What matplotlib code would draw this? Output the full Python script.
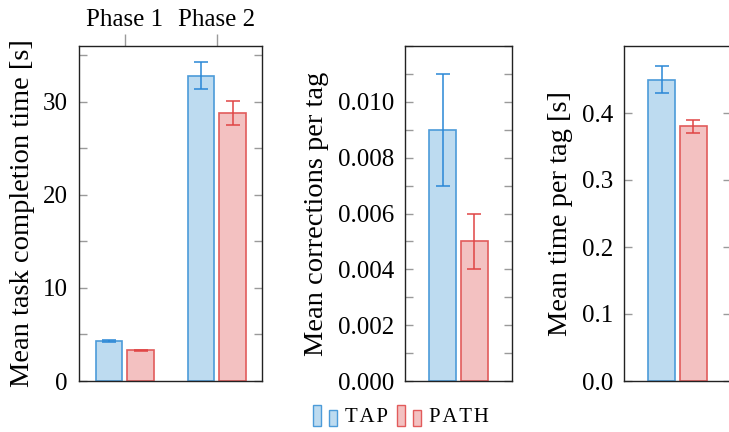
import numpy as np
import matplotlib
matplotlib.use('Agg')
import matplotlib.pyplot as plt
from matplotlib.patches import Rectangle
from matplotlib.legend_handler import HandlerBase
from matplotlib.ticker import MultipleLocator

plt.rcParams['font.family'] = ['Liberation Serif', 'DejaVu Serif']

# 数据
phases = ['Phase 1', 'Phase 2']
time_tap = [4.3, 32.8]
time_tap_err = [0.1, 1.45]
time_path = [3.3, 28.8]
time_path_err = [0.08, 1.25]

corr_tap, corr_tap_err = 0.009, 0.002
corr_path, corr_path_err = 0.005, 0.001

tag_tap, tag_tap_err = 0.45, 0.02
tag_path, tag_path_err = 0.38, 0.01

labels = ['T\u200aA\u200aP', 'P\u200aA\u200aT\u200aH']

# 样式
blue_fill, blue_edge, blue_err = '#bddbf0', '#4c9bd9', '#2a87d6'
red_fill, red_edge, red_err = '#f3c1c1', '#e25b5b', '#e04545'
tick_col = '#9a9a9a'
bw = 0.29
off = 0.172
tick_fs = 18
label_fs = 20.5


class TwoBars(HandlerBase):
    """图例：两根不同高度的小柱"""
    def create_artists(self, legend, orig_handle, xdescent, ydescent,
                       width, height, fontsize, trans):
        fc = orig_handle.get_facecolor()
        ec = orig_handle.get_edgecolor()
        w = width * 0.34
        r1 = Rectangle((-xdescent, -ydescent), w, height, fc=fc, ec=ec, lw=1.0, transform=trans)
        r2 = Rectangle((-xdescent + width - w, -ydescent), w, height * 0.76, fc=fc, ec=ec, lw=1.0, transform=trans)
        return [r1, r2]


def style_axis(ax):
    ax.tick_params(axis='y', which='both', direction='in', left=True, right=True,
                   color=tick_col, width=1.0, labelsize=tick_fs, pad=8)
    ax.tick_params(axis='y', which='major', length=6)
    ax.tick_params(axis='y', which='minor', length=6)
    ax.tick_params(axis='x', which='both', bottom=False, top=False, labelbottom=False)
    for s in ax.spines.values():
        s.set_linewidth(1.0)
        s.set_color('#222222')


def draw_pair(ax, x, v1, e1, v2, e2):
    ax.bar(np.asarray(x) - off, v1, bw, color=blue_fill, edgecolor=blue_edge, lw=1.2)
    ax.errorbar(np.asarray(x) - off, v1, yerr=e1, fmt='none', ecolor=blue_err,
                elinewidth=1.1, capsize=4.7, capthick=1.1)
    ax.bar(np.asarray(x) + off, v2, bw, color=red_fill, edgecolor=red_edge, lw=1.2)
    ax.errorbar(np.asarray(x) + off, v2, yerr=e2, fmt='none', ecolor=red_err,
                elinewidth=1.1, capsize=4.7, capthick=1.1)


W, H = 729, 432
fig = plt.figure(figsize=(W / 100, H / 100), dpi=100)
bot = (H - 381) / H
hgt = 335 / H

# 1. 任务完成时间
ax1 = fig.add_axes([79 / W, bot, 183 / W, hgt])
x = np.arange(len(phases))
draw_pair(ax1, x, time_tap, time_tap_err, time_path, time_path_err)
ax1.set_xlim(-0.5, 1.49)
ax1.set_ylim(0, 36)
ax1.set_yticks([0, 10, 20, 30])
ax1.yaxis.set_minor_locator(MultipleLocator(5))
style_axis(ax1)
ax1.set_ylabel('Mean task completion time [s]', fontsize=label_fs, labelpad=6)
top = ax1.secondary_xaxis('top')
top.set_xticks(x)
top.set_xticklabels(phases)
top.tick_params(axis='x', direction='out', length=9, color=tick_col, width=1.0,
                labelsize=tick_fs, pad=2)
top.spines['top'].set_visible(False)

# 2. 每个标签的修正次数
ax2 = fig.add_axes([405 / W, bot, 107 / W, hgt])
draw_pair(ax2, [0], [corr_tap], [corr_tap_err], [corr_path], [corr_path_err])
ax2.set_xlim(-0.5815, 0.5815)
ax2.set_ylim(0, 0.012)
ax2.set_yticks(np.arange(0, 0.0101, 0.002))
ax2.yaxis.set_major_formatter(plt.FuncFormatter(lambda v, p: f'{v:.3f}'))
ax2.yaxis.set_minor_locator(MultipleLocator(0.001))
style_axis(ax2)
ax2.set_ylabel('Mean corrections per tag', fontsize=label_fs, labelpad=6)

# 3. 每个标签的时间
ax3 = fig.add_axes([624 / W, bot, 107 / W, hgt])
draw_pair(ax3, [0], [tag_tap], [tag_tap_err], [tag_path], [tag_path_err])
ax3.set_xlim(-0.5815, 0.5815)
ax3.set_ylim(0, 0.5)
ax3.set_yticks([0.0, 0.1, 0.2, 0.3, 0.4])
ax3.yaxis.set_major_formatter(plt.FuncFormatter(lambda v, p: f'{v:.1f}'))
style_axis(ax3)
ax3.set_ylabel('Mean time per tag [s]', fontsize=label_fs, labelpad=6)

# 图例
h1 = Rectangle((0, 0), 1, 1, fc=blue_fill, ec=blue_edge)
h2 = Rectangle((0, 0), 1, 1, fc=red_fill, ec=red_edge)
fig.legend([h1, h2], labels, loc='center', bbox_to_anchor=(401 / W, (H - 416) / H),
           ncol=2, frameon=False, fontsize=15, handler_map={Rectangle: TwoBars()},
           handlelength=1.15, handleheight=1.2, handletextpad=0.42, columnspacing=0.4,
           borderpad=0, borderaxespad=0)

fig.savefig('out.png', dpi=100)
